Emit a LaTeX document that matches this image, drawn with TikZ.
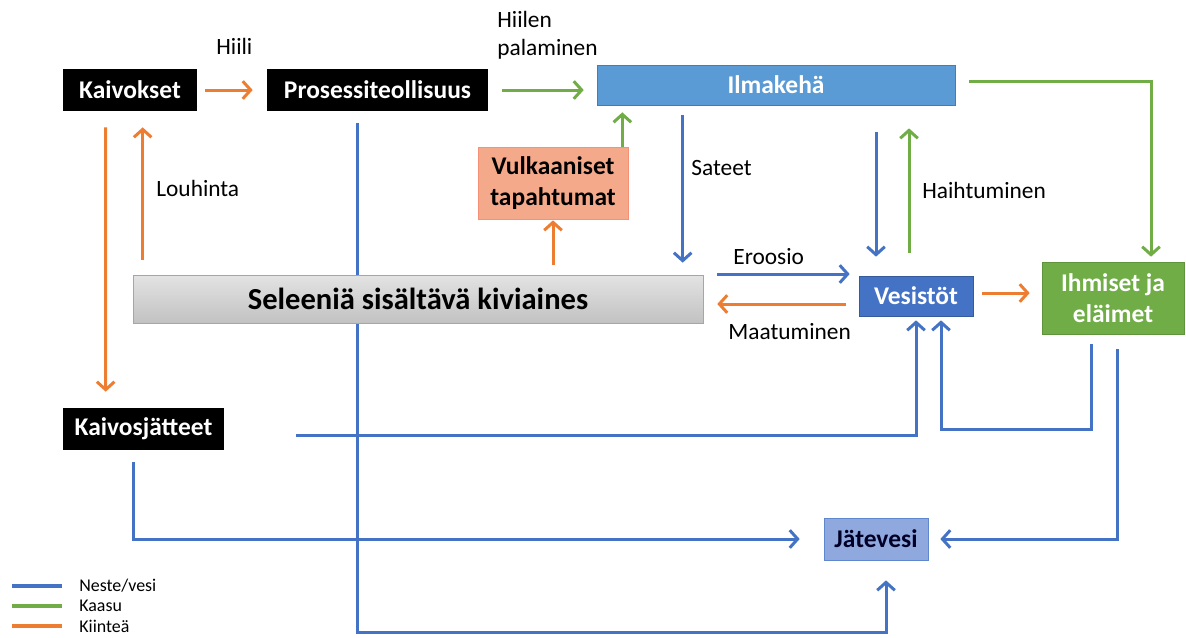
\documentclass[tikz,border=0pt]{standalone}
\usepackage{fontspec}
\setmainfont{Carlito}
\usetikzlibrary{arrows.meta,calc,backgrounds}
\definecolor{cNeste}{HTML}{4472C4}
\definecolor{cKaasu}{HTML}{70AD47}
\definecolor{cKiintea}{HTML}{ED7D31}
\definecolor{cIlma}{HTML}{5B9BD5}
\definecolor{cVulk}{HTML}{F5A98B}
\definecolor{cJate}{HTML}{8FA9DF}
\begin{document}
\begin{tikzpicture}[x=0.02cm, y=-0.02cm,
  box/.style={font=\fontsize{14.5}{18}\selectfont\bfseries, inner sep=0pt, align=center},
  blackbox/.style={box, fill=black, text=white},
  flow/.style={line width=1.7pt, -{Straight Barb[length=4.5pt,width=10pt,line width=1.7pt]}},
  neste/.style={flow, draw=cNeste},
  kaasu/.style={flow, draw=cKaasu},
  kiintea/.style={flow, draw=cKiintea},
  tag/.style={font=\fontsize{13.3}{16}\selectfont, anchor=west, inner sep=0pt, align=left},
  legendtext/.style={font=\fontsize{10.2}{12}\selectfont, anchor=west, inner sep=0pt}]
\useasboundingbox (0,0) rectangle (1186,637);

% boxes
\node[blackbox, minimum width=2.68cm, minimum height=0.84cm] (kaivokset) at (130,90) {Kaivokset};
\node[blackbox, minimum width=4.42cm, minimum height=0.84cm] (prosessi) at (377.5,90) {Prosessiteollisuus};
\node[box, fill=cIlma, draw=cIlma!80!black, text=white, minimum width=7.16cm, minimum height=0.8cm] (ilmakeha) at (776,85) {Ilmakehä};
\node[box, fill=cVulk, draw=cVulk!85!red, minimum width=3.0cm, minimum height=1.44cm] (vulkaaniset) at (553,183) {Vulkaaniset\\tapahtumat};
\node[box, top color=black!11, bottom color=black!24, draw=black!35, font=\fontsize{17.4}{20}\selectfont\bfseries, minimum width=11.4cm, minimum height=0.96cm] (seleenia) at (418,299) {Seleeniä sisältävä kiviaines};
\node[box, fill=cNeste, draw=cNeste!80!black, text=white, minimum width=2.28cm, minimum height=0.8cm] (vesistot) at (916,296) {Vesistöt};
\node[box, fill=cKaasu, draw=cKaasu!85!black, text=white, minimum width=2.84cm, minimum height=1.44cm] (ihmiset) at (1113,298) {Ihmiset ja\\eläimet};
\node[blackbox, minimum width=3.22cm, minimum height=0.84cm] (kaivosjatteet) at (143.5,429) {Kaivosjätteet};
\node[box, fill=cJate, draw=cNeste!85!white, text=black!85!blue, minimum width=2.08cm, minimum height=0.84cm] (jatevesi) at (876,539) {Jätevesi};

% labels
\node[tag] (hiili) at (216,46) {Hiili};
\node[tag] (palaminen) at (497,35) {Hiilen\\palaminen};
\node[tag] (louhinta) at (156,188) {Louhinta};
\node[tag] (sateet) at (691,168) {Sateet};
\node[tag] (haihtuminen) at (922,190) {Haihtuminen};
\node[tag] (eroosio) at (733,257) {Eroosio};
\node[tag] (maatuminen) at (728,332) {Maatuminen};

\begin{scope}[on background layer]
% solid matter
\draw[kiintea] ($(kaivokset.east)+(8,0)$) -- ($(prosessi.west)+(-14,0)$);
\draw[kiintea] ($(vulkaaniset.south |- seleenia.north)+(0,-10)$) -- ($(vulkaaniset.south)+(0,1)$);
\draw[kiintea] ($(kaivokset.south west |- seleenia.north)+(80,-15)$) -- ($(kaivokset.south west)+(80,16)$);
\draw[kiintea] ($(kaivokset.south west)+(43,16)$) -- ($(kaivosjatteet.north west)+(43,-16)$);
\draw[kiintea] ($(vesistot.west)+(-13,8)$) -- ($(seleenia.east)+(14,5)$);
\draw[kiintea] ($(vesistot.east)+(9,-3)$) -- ($(ihmiset.west)+(-12,-5)$);

% gas
\draw[kaasu] ($(prosessi.east)+(14,0)$) -- ($(prosessi.east -| ilmakeha.west)+(-13,0)$);
\draw[kaasu] ($(ilmakeha.east)+(14,-4)$) -| ($(ihmiset.north)+(38,-5)$);
\draw[kaasu] ($(vulkaaniset.north east)+(-6,0)$) -- ($(vulkaaniset.north east |- ilmakeha.south)+(-6,7)$);
\draw[kaasu] ($(vesistot.north)+(-7,-23)$) -- ($(ilmakeha.south -| vesistot.north)+(-7,23)$);

% liquid / water
\draw[neste] ($(ilmakeha.south west)+(86,10)$) -- ($(ilmakeha.south west |- seleenia.north)+(86,-12)$);
\draw[neste] ($(ilmakeha.south -| vesistot.north)+(-40,27)$) -- ($(vesistot.north)+(-40,-19)$);
\draw[neste] ($(seleenia.east)+(14,-25)$) -- ($(vesistot.west)+(-9,-22)$);
\draw[neste] ($(kaivosjatteet.east)+(72,6)$) -| ($(vesistot.south)+(0,4)$);
\draw[neste] ($(ihmiset.south west)+(50,10)$) -- ++(0,85) -| ($(vesistot.south)+(25,4)$);
\draw[neste] ($(ihmiset.south east)+(-67,15)$) |- ($(jatevesi.east)+(12,0)$);
\draw[neste] ($(kaivosjatteet.south west)+(71,12)$) |- ($(jatevesi.west)+(-24,0)$);
\draw[neste] ($(prosessi.south west)+(91,12)$) |- ($(jatevesi.south)+(10,72)$) -- ($(jatevesi.south)+(10,20)$);
\end{scope}

% legend
\foreach \c/\t [count=\i] in {cNeste/{Neste/vesi}, cKaasu/Kaasu, cKiintea/Kiinteä}{
  \draw[draw=\c, line width=2.5pt] (12,566+20*\i) -- (62,566+20*\i);
  \node[legendtext] (legend\i) at (79,566+20*\i) {\t};
}
\end{tikzpicture}
\end{document}
